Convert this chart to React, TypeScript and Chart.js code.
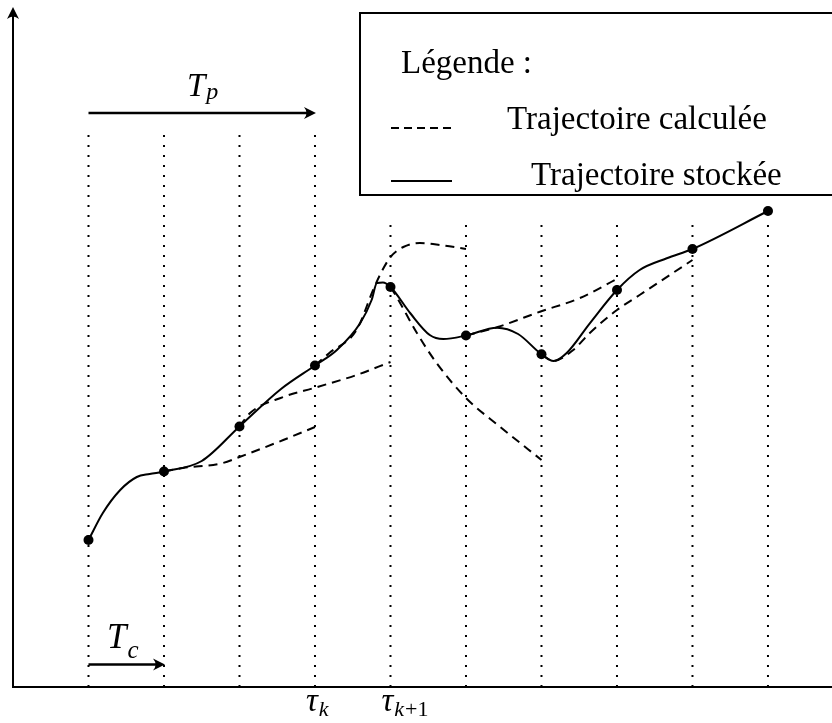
import React, { useEffect, useRef } from "react";
import { Chart, registerables } from "chart.js";

Chart.register(...registerables);

// ---- Data (x in sampling steps, y in arbitrary units) ----
const sampleSteps = [1, 2, 3, 4, 5, 6, 7, 8, 9, 10];
const storedValues = [14.7, 21.55, 26.05, 32.15, 40.0, 35.15, 33.27, 39.7, 43.8, 47.6];

// stored trajectory (smooth curve through samples, with shape points)
const storedCurveX = [1, 1.19, 1.42, 1.64, 1.81, 2, 2.5, 3, 3.55, 4, 4.29, 4.6, 4.75, 4.82, 4.9, 5, 5.26, 5.52, 5.7, 6, 6.41, 6.69, 7, 7.16, 7.33, 7.64, 8, 8.3, 8.66, 9, 10];
const storedCurveY = [14.7, 17.4, 19.7, 21.0, 21.3, 21.55, 22.6, 26.05, 29.8, 32.15, 33.7, 36.4, 38.7, 40.4, 40.45, 40.0, 37.4, 35.2, 34.8, 35.15, 35.93, 35.3, 33.27, 32.6, 33.37, 36.37, 39.7, 41.7, 42.87, 43.8, 47.6];

// computed (predicted) trajectories
const predA_x = [2, 2.25, 2.78, 3.0, 3.58, 4.0];
const predA_y = [21.55, 21.9, 22.4, 23.0, 24.7, 26.0];
const predB_x = [3, 3.14, 3.58, 4.0, 4.55, 5.0];
const predB_y = [26.05, 27.4, 29.0, 29.93, 31.2, 32.5];
const predC_x = [4, 4.19, 4.55, 4.77, 4.86, 5.0, 5.17, 5.39, 5.66, 6.0];
const predC_y = [32.15, 33.4, 35.7, 39.7, 41.2, 43.0, 44.0, 44.4, 44.2, 43.8];
const predD_x = [5, 5.08, 5.35, 5.61, 6.0, 6.45, 7.0];
const predD_y = [40.0, 39.03, 35.4, 32.4, 28.9, 26.03, 22.7];
const predE_x = [6, 6.42, 6.98, 7.51, 8.0];
const predE_y = [35.15, 36.0, 37.53, 38.9, 40.8];
const predF_x = [7, 7.15, 7.42, 7.64, 8.0, 8.3, 9.0];
const predF_y = [33.27, 32.6, 33.7, 35.4, 37.7, 39.2, 42.7];

// vertical dotted sampling lines: top value per step
const gridTops = [55.8, 55.8, 55.8, 55.8, 46.4, 46.4, 46.4, 46.4, 46.4, 46.4];

// texts
const legendTitle = "Légende :";
const legendLabels = ["Trajectoire calculée", "Trajectoire stockée"];
const tickLabels = [
  { step: 4, main: "τ", sub: "k", rest: "" },
  { step: 5, main: "τ", sub: "k", rest: "+1" },
];
const periodLabels = [
  { main: "T", sub: "p" },
  { main: "T", sub: "c" },
];

const zip = (xs: number[], ys: number[]) => xs.map((x, i) => ({ x, y: ys[i] }));

const SERIF = '"Liberation Serif", "DejaVu Serif", serif';

function arrowHead(ctx: CanvasRenderingContext2D, x: number, y: number, dir: "right" | "up") {
  ctx.save();
  ctx.beginPath();
  if (dir === "right") {
    ctx.moveTo(x, y);
    ctx.lineTo(x - 12, y - 6);
    ctx.quadraticCurveTo(x - 7, y, x - 12, y + 6);
  } else {
    ctx.moveTo(x, y);
    ctx.lineTo(x - 6, y + 12);
    ctx.quadraticCurveTo(x, y + 7, x + 6, y + 12);
  }
  ctx.closePath();
  ctx.fillStyle = "#000";
  ctx.fill();
  ctx.restore();
}

function subText(ctx: CanvasRenderingContext2D, main: string, sub: string, x: number, y: number, size: number, subSize: number, subDrop: number, rest = "") {
  ctx.font = `italic ${size}px ${SERIF}`;
  ctx.fillText(main, x, y);
  const w = ctx.measureText(main).width;
  ctx.font = `italic ${subSize}px ${SERIF}`;
  ctx.fillText(sub, x + w + 1, y + subDrop);
  if (rest) {
    const w2 = ctx.measureText(sub).width;
    ctx.font = `${subSize}px ${SERIF}`;
    ctx.fillText(rest, x + w + 2 + w2, y + subDrop);
  }
}

const decorPlugin = {
  id: "decor",
  afterDatasetsDraw(chart: any) {
    const ctx: CanvasRenderingContext2D = chart.ctx;
    const xs = chart.scales.x;
    const ys = chart.scales.y;
    const X = (v: number) => xs.getPixelForValue(v);
    const Y = (v: number) => ys.getPixelForValue(v);
    ctx.save();
    ctx.strokeStyle = "#000";
    ctx.fillStyle = "#000";
    ctx.lineCap = "butt";

    // axes
    ctx.lineWidth = 2;
    ctx.beginPath();
    ctx.moveTo(X(0), Y(0));
    ctx.lineTo(chart.width, Y(0));
    ctx.stroke();
    ctx.beginPath();
    ctx.moveTo(X(0), Y(0) + 1);
    ctx.lineTo(X(0), 16);
    ctx.stroke();
    arrowHead(ctx, X(0), 7, "up");

    // T_p arrow
    ctx.lineWidth = 2.5;
    const yTp = Y(57.4);
    ctx.beginPath();
    ctx.moveTo(X(1), yTp);
    ctx.lineTo(X(4) - 6, yTp);
    ctx.stroke();
    arrowHead(ctx, X(4) + 1, yTp, "right");

    // T_c arrow
    const yTc = Y(2.25);
    ctx.beginPath();
    ctx.moveTo(X(1), yTc);
    ctx.lineTo(X(2) - 6, yTc);
    ctx.stroke();
    arrowHead(ctx, X(2) + 1, yTc, "right");

    ctx.textBaseline = "alphabetic";
    ctx.textAlign = "left";
    subText(ctx, periodLabels[0].main, periodLabels[0].sub, 187, 96, 33, 24, 3);
    subText(ctx, periodLabels[1].main, periodLabels[1].sub, 107, 648, 35, 25, 10);

    // tick labels
    tickLabels.forEach((t) => {
      subText(ctx, t.main, t.sub, X(t.step) - 9, 711, 33, 22, 5, t.rest);
    });

    // legend box
    ctx.lineWidth = 2;
    ctx.fillStyle = "#fff";
    ctx.fillRect(360, 13, 480, 182);
    ctx.strokeRect(360, 13, 480, 182);
    ctx.fillStyle = "#000";
    ctx.font = `33px ${SERIF}`;
    ctx.fillText(legendTitle, 401, 73);
    ctx.fillText(legendLabels[0], 507, 129);
    ctx.fillText(legendLabels[1], 531, 185);
    ctx.lineWidth = 2;
    ctx.setLineDash([8, 5]);
    ctx.beginPath();
    ctx.moveTo(391, 128);
    ctx.lineTo(452, 128);
    ctx.stroke();
    ctx.setLineDash([]);
    ctx.beginPath();
    ctx.moveTo(391, 181);
    ctx.lineTo(452, 181);
    ctx.stroke();
    ctx.restore();
  },
};

export default function App() {
  const ref = useRef<HTMLCanvasElement | null>(null);
  useEffect(() => {
    if (!ref.current) return;
    const dashed = (xs: number[], ys: number[]) => ({
      data: zip(xs, ys),
      borderColor: "#000",
      borderWidth: 2,
      borderDash: [9, 6],
      pointRadius: 0,
      fill: false,
      cubicInterpolationMode: "monotone" as const,
      order: 2,
    });
    const gridSets = sampleSteps.map((s, i) => ({
      data: [{ x: s, y: 0 }, { x: s, y: gridTops[i] }],
      borderColor: "#000",
      borderWidth: 2,
      borderDash: [2, 8],
      pointRadius: 0,
      fill: false,
      order: 5,
    }));
    const chart = new Chart(ref.current, {
      type: "line",
      data: {
        datasets: [
          ...gridSets,
          dashed(predA_x, predA_y),
          dashed(predB_x, predB_y),
          dashed(predC_x, predC_y),
          dashed(predD_x, predD_y),
          dashed(predE_x, predE_y),
          dashed(predF_x, predF_y),
          {
            data: zip(storedCurveX, storedCurveY),
            borderColor: "#000",
            borderWidth: 2,
            pointRadius: 0,
            fill: false,
            cubicInterpolationMode: "monotone" as const,
            order: 1,
          },
          {
            data: zip(sampleSteps, storedValues),
            showLine: false,
            pointRadius: 5,
            pointBackgroundColor: "#000",
            pointBorderColor: "#000",
            pointBorderWidth: 0,
            order: 0,
          },
        ] as any,
      },
      options: {
        animation: false,
        responsive: false,
        devicePixelRatio: 1,
        layout: { autoPadding: false, padding: { left: 13, right: 0, top: 8, bottom: 36 } },
        scales: {
          x: { type: "linear", min: 0, max: 10.848, display: false },
          y: { type: "linear", min: 0, max: 67.9, display: false },
        },
        plugins: { legend: { display: false }, tooltip: { enabled: false } },
        events: [],
      } as any,
      plugins: [decorPlugin],
    });
    return () => chart.destroy();
  }, []);
  return (
    <div style={{ position: "absolute", left: 0, top: 0, width: 832, height: 723, background: "#fff" }}>
      <canvas ref={ref} width={832} height={723} style={{ display: "block" }} />
    </div>
  );
}
